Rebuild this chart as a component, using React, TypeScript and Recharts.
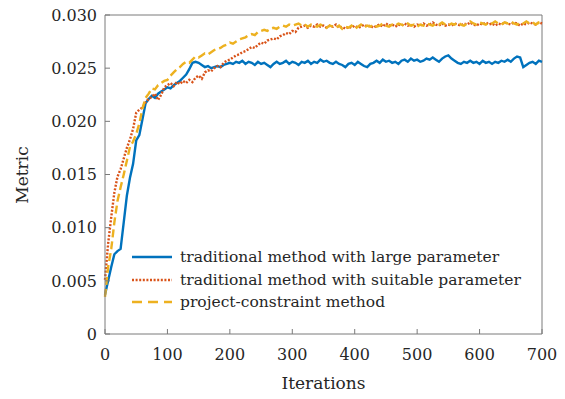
import { LineChart, Line, XAxis, YAxis, ReferenceLine, Label } from 'recharts';

// iterations sampled every 5 steps, 0..700
const iterations: number[] = Array.from({ length: 141 }, (_, i) => i * 5);

const largeParam: number[] = [
  0.0037, 0.005, 0.0063, 0.0075, 0.0078, 0.008, 0.0105, 0.013, 0.0147, 0.016,
  0.0182, 0.0187, 0.0202, 0.0217, 0.0221, 0.0224, 0.0222, 0.0226, 0.0228, 0.023,
  0.0232, 0.0231, 0.0234, 0.0236, 0.0238, 0.0241, 0.0244, 0.0249, 0.0255, 0.0256,
  0.0255, 0.0253, 0.0251, 0.0252, 0.025, 0.0251, 0.0252, 0.0251, 0.0253, 0.0254,
  0.0255, 0.0254, 0.0256, 0.0255, 0.0257, 0.0254, 0.0256, 0.0255, 0.0253, 0.0256,
  0.0254, 0.0255, 0.0253, 0.0251, 0.0254, 0.0256, 0.0254, 0.0255, 0.0257, 0.0254,
  0.0256, 0.0255, 0.0253, 0.0256, 0.0255, 0.0257, 0.0254, 0.0256, 0.0255, 0.0258,
  0.0256, 0.0257, 0.0255, 0.0254, 0.0256, 0.0254, 0.0253, 0.0251, 0.0254, 0.0255,
  0.0253, 0.0256, 0.0254, 0.0252, 0.0251, 0.0254, 0.0255, 0.0257, 0.0255, 0.0258,
  0.0256, 0.0257, 0.0255, 0.0256, 0.0254, 0.0257, 0.0258, 0.0256, 0.0259, 0.0257,
  0.0258, 0.0256, 0.0257, 0.0259, 0.0258, 0.026, 0.0258, 0.0256, 0.0259, 0.0261,
  0.0262, 0.0259, 0.0257, 0.0255, 0.0254, 0.0256, 0.0255, 0.0257, 0.0255, 0.0256,
  0.0254, 0.0257, 0.0255, 0.0256, 0.0254, 0.0256, 0.0255, 0.0257, 0.0256, 0.0258,
  0.0256, 0.0259, 0.0261, 0.026, 0.0251, 0.0253, 0.0255, 0.0256, 0.0254, 0.0257,
  0.0256,
];

const suitableParam: number[] = [
  0.0051, 0.0085, 0.011, 0.0133, 0.0148, 0.0155, 0.0165, 0.0175, 0.0183, 0.0193,
  0.0208, 0.0211, 0.0213, 0.0218, 0.0221, 0.0223, 0.0226, 0.022, 0.0225, 0.0232,
  0.0234, 0.0236, 0.0233, 0.0237, 0.0235, 0.0238, 0.0236, 0.0239, 0.0237, 0.0241,
  0.0243, 0.024, 0.0246, 0.0248, 0.0247, 0.025, 0.0252, 0.0251, 0.0255, 0.0257,
  0.0258, 0.026, 0.0262, 0.0263, 0.0265, 0.0266, 0.0268, 0.027, 0.0269, 0.0272,
  0.0274, 0.0273, 0.0276, 0.0277, 0.0278, 0.0277, 0.028, 0.0281, 0.0283, 0.0282,
  0.0285, 0.0284, 0.0288, 0.0289, 0.029, 0.0288, 0.029, 0.0289, 0.0291, 0.0289,
  0.029, 0.0288, 0.029, 0.0289, 0.0291, 0.0288, 0.0289, 0.0287, 0.0289, 0.0288,
  0.029, 0.0288, 0.0289, 0.0291, 0.0289, 0.029, 0.0288, 0.029, 0.0291, 0.0289,
  0.0292, 0.029, 0.0291, 0.0289, 0.0291, 0.029, 0.0292, 0.029, 0.0291, 0.0289,
  0.0291, 0.029, 0.0292, 0.029, 0.0291, 0.0293, 0.0291, 0.029, 0.0292, 0.029,
  0.0291, 0.029, 0.0292, 0.0291, 0.029, 0.0292, 0.0291, 0.0293, 0.0291, 0.029,
  0.0292, 0.0291, 0.0293, 0.0291, 0.0292, 0.029, 0.0292, 0.0291, 0.0293, 0.0292,
  0.0291, 0.0293, 0.0292, 0.029, 0.0292, 0.0291, 0.0293, 0.0292, 0.0291, 0.0293,
  0.0292,
];

const projectConstraint: number[] = [
  0.0035, 0.0063, 0.008, 0.0105, 0.0125, 0.0138, 0.015, 0.0163, 0.0176, 0.0181,
  0.0188, 0.0198, 0.0212, 0.0222, 0.0226, 0.0231, 0.023, 0.0234, 0.0236, 0.0238,
  0.0239, 0.0243, 0.0246, 0.0249, 0.0251, 0.0254, 0.0256, 0.0255, 0.0258, 0.0261,
  0.026, 0.0262, 0.0264, 0.0263, 0.0265, 0.0267, 0.0268, 0.0269, 0.0271, 0.0272,
  0.0274, 0.0273, 0.0275, 0.0277, 0.0278, 0.0279, 0.0281, 0.0282, 0.0281, 0.0284,
  0.0285, 0.0286, 0.0285, 0.0287, 0.0288, 0.0287, 0.0289, 0.029, 0.0289, 0.0291,
  0.029, 0.0291, 0.0292, 0.029, 0.0291, 0.0289, 0.0291, 0.029, 0.0289, 0.0291,
  0.029, 0.0288, 0.029, 0.0289, 0.0288, 0.029, 0.0287, 0.0289, 0.0288, 0.029,
  0.0287, 0.0289, 0.0291, 0.0288, 0.029, 0.0289, 0.0291, 0.0289, 0.029, 0.0292,
  0.029, 0.0289, 0.0291, 0.029, 0.0292, 0.0291, 0.029, 0.0292, 0.029, 0.0291,
  0.0289, 0.0291, 0.029, 0.0292, 0.0291, 0.029, 0.0292, 0.0291, 0.0293, 0.0291,
  0.029, 0.0292, 0.0291, 0.0293, 0.0291, 0.029, 0.0292, 0.0294, 0.0292, 0.0291,
  0.0293, 0.0292, 0.0291, 0.0293, 0.0292, 0.0294, 0.0292, 0.0291, 0.0293, 0.0292,
  0.0294, 0.0292, 0.0291, 0.0293, 0.0292, 0.0294, 0.0292, 0.0293, 0.0291, 0.0293,
  0.0294,
];

const xTicks = [0, 100, 200, 300, 400, 500, 600, 700];
const yTicks = [0, 0.005, 0.01, 0.015, 0.02, 0.025, 0.03];

const seriesNames = [
  'traditional method with large parameter',
  'traditional method with suitable parameter',
  'project-constraint method',
];

const FONT = "'DejaVu Serif', serif";
const AXIS = '#7a7a7a';
const TEXT = '#262626';
const BLUE = '#0072BD';
const RED = '#D95319';
const YELLOW = '#EDB120';

const data = iterations.map((it, i) => ({
  iter: it,
  large: largeParam[i],
  suitable: suitableParam[i],
  project: projectConstraint[i],
}));

// legend drawn as an overlay so it doesn't eat plot space
function LegendBox() {
  const rows = [
    { color: BLUE, dash: undefined as string | undefined, name: seriesNames[0] },
    { color: RED, dash: '2 1.6', name: seriesNames[1] },
    { color: YELLOW, dash: '10 6', name: seriesNames[2] },
  ];
  return (
    <div
      style={{
        position: 'absolute',
        left: 132,
        top: 246,
        fontFamily: FONT,
        fontSize: 15.5,
        color: TEXT,
        lineHeight: '22.5px',
      }}
    >
      {rows.map((r) => (
        <div key={r.name} style={{ display: 'flex', alignItems: 'center', whiteSpace: 'nowrap' }}>
          <svg width={48} height={10}>
            <line x1={0} y1={5} x2={40} y2={5} stroke={r.color} strokeWidth={2.4} strokeDasharray={r.dash} />
          </svg>
          <span>{r.name}</span>
        </div>
      ))}
    </div>
  );
}

export default function App() {
  return (
    <div style={{ position: 'absolute', left: 0, top: 0, width: 565, height: 399, background: '#fff' }}>
      <LineChart width={565} height={399} data={data} margin={{ top: 15, right: 23, left: 0, bottom: 0 }}>
        <XAxis
          dataKey="iter"
          type="number"
          domain={[0, 700]}
          ticks={xTicks}
          interval={0}
          height={65}
          stroke={AXIS}
          tickSize={-5}
          tickMargin={20}
          tick={{ fill: TEXT, fontSize: 16, fontFamily: FONT }}
        >
          <Label value="Iterations" position="insideBottom" offset={10} style={{ fill: TEXT, fontSize: 17, fontFamily: FONT }} />
        </XAxis>
        <YAxis
          type="number"
          domain={[0, 0.03]}
          ticks={yTicks}
          interval={0}
          width={105}
          stroke={AXIS}
          tickSize={-5}
          tickMargin={13}
          tickFormatter={(v: number) => (v === 0 ? '0' : v.toFixed(3))}
          tick={{ fill: TEXT, fontSize: 16, fontFamily: FONT }}
        >
          <Label
            content={() => (
              <text x={22} y={175} transform="rotate(-90 22 175)" textAnchor="middle" dominantBaseline="central" fill={TEXT} fontSize={17} fontFamily={FONT}>
                Metric
              </text>
            )}
          />
        </YAxis>
        <ReferenceLine y={0.03} stroke={AXIS} strokeWidth={1} />
        <ReferenceLine x={700} stroke={AXIS} strokeWidth={1} />
        <Line dataKey="large" stroke={BLUE} strokeWidth={2.4} dot={false} isAnimationActive={false} />
        <Line dataKey="suitable" stroke={RED} strokeWidth={2.4} strokeDasharray="2 1.6" dot={false} isAnimationActive={false} />
        <Line dataKey="project" stroke={YELLOW} strokeWidth={2.4} strokeDasharray="8 4" dot={false} isAnimationActive={false} />
      </LineChart>
      <LegendBox />
    </div>
  );
}
